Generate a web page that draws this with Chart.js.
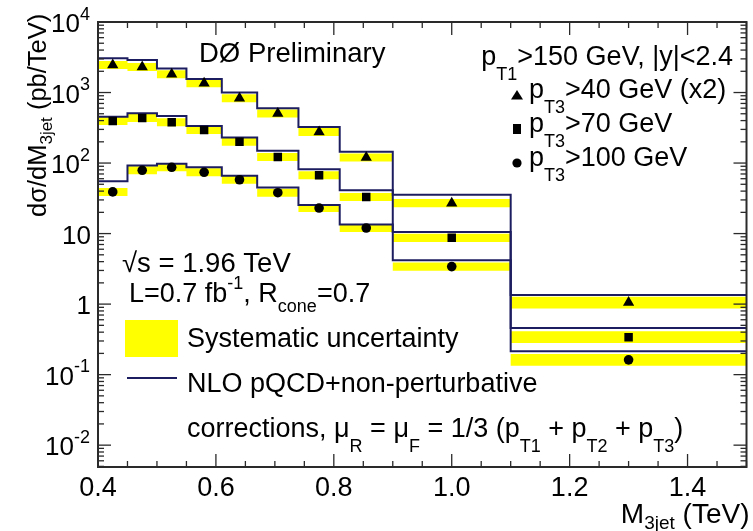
<!DOCTYPE html>
<html>
<head>
<meta charset="utf-8">
<title>D0 three-jet mass cross section</title>
<script src="https://cdn.jsdelivr.net/npm/chart.js@4.4.1/dist/chart.umd.min.js"></script>
<style>
  html, body { margin: 0; padding: 0; background: #ffffff; }
  #chart { display: block; }
</style>
</head>
<body>
<canvas id="chart" width="753" height="531"></canvas>
<script>
// bin edges and centres in M3jet (TeV)
const binEdges = [0.40, 0.45, 0.50, 0.55, 0.61, 0.67, 0.74, 0.81, 0.90, 1.10, 1.50];
const binCenters = [0.425, 0.475, 0.525, 0.58, 0.64, 0.705, 0.775, 0.855, 1.00, 1.30];

// measured cross sections (pb/TeV), pT3 > 40 GeV is scaled by 2
const dataPt40 = [2450, 2300, 1820, 1350, 830, 505, 275, 120, 27, 1.05];
const dataPt70 = [395, 435, 380, 295, 200, 122, 67, 33, 8.7, 0.34];
const dataPt100 = [39, 79, 87, 74, 58, 38, 23, 12, 3.4, 0.162];

// NLO pQCD + non-perturbative corrections
const nloPt40 = [3050, 2900, 2200, 1550, 1000, 600, 325, 145, 35.5, 1.35];
const nloPt70 = [455, 510, 465, 335, 230, 150, 82, 41, 10.5, 0.46];
const nloPt100 = [55, 92, 98, 87, 66, 45, 25.5, 13.5, 4.2, 0.215];

// relative systematic uncertainty per bin
const sysUnc = [0.14, 0.14, 0.14, 0.14, 0.14, 0.14, 0.14, 0.14, 0.145, 0.21];

// axis labels
const xTickValues = [0.4, 0.6, 0.8, 1.0, 1.2, 1.4];
const xTickLabels = ['0.4', '0.6', '0.8', '1.0', '1.2', '1.4'];
const yTickValues = [1e-2, 1e-1, 1, 10, 1e2, 1e3, 1e4];
const yTickBase = ['10', '10', '1', '10', '10', '10', '10'];
const yTickExp = ['-2', '-1', '', '', '2', '3', '4'];

const YELLOW = '#ffff00';
const NAVY = '#1c1c60';
const FONT = "'Liberation Sans', Arial, Helvetica, sans-serif";

// step line points: one point per bin edge, last one repeats the last value
// (with stepped 'before' each point's value runs to the next edge)
function stepPoints(values, factor) {
    return binEdges.map((e, i) => {
        const k = Math.min(i, values.length - 1);
        const f = factor ? factor(k) : 1;
        return { x: e, y: values[k] * f };
    });
}

function buildDatasets() {
    const series = [
        { data: dataPt40, nlo: nloPt40, style: 'triangle', radius: 6.5 },
        { data: dataPt70, nlo: nloPt70, style: 'rect', radius: 6 },
        { data: dataPt100, nlo: nloPt100, style: 'circle', radius: 4.8 }
    ];
    const sets = [];
    series.forEach(s => {
        // systematic band: upper edge, then lower edge filled to it
        sets.push({
            data: stepPoints(s.data, k => 1 + sysUnc[k]),
            stepped: 'before', borderWidth: 0, pointRadius: 0,
            fill: false, order: 3
        });
        sets.push({
            data: stepPoints(s.data, k => 1 / (1 + sysUnc[k])),
            stepped: 'before', borderWidth: 0, pointRadius: 0,
            fill: '-1', backgroundColor: YELLOW, order: 3
        });
        // theory histogram
        sets.push({
            data: stepPoints(s.nlo),
            stepped: 'before', borderColor: NAVY, borderWidth: 2,
            pointRadius: 0, fill: false, order: 2
        });
        // data markers
        sets.push({
            data: binCenters.map((c, i) => ({ x: c, y: s.data[i] })),
            showLine: false, pointStyle: s.style, pointRadius: s.radius,
            backgroundColor: '#000', borderColor: '#000', borderWidth: 0,
            order: 1
        });
    });
    return sets;
}

// text with sub/superscripts: parts = [text, kind]
function drawRich(ctx, parts, x, y, size, align) {
    const fontFor = k => (k === 'n' ? size : Math.round(size * 0.68)) + 'px ' + FONT;
    const shift = { n: 0, sub: 0.22, subr: 0.37, subp: 0.56, sup: -0.47 };
    const widths = parts.map(([t, k]) => { ctx.font = fontFor(k); return ctx.measureText(t).width; });
    const total = widths.reduce((a, b) => a + b, 0);
    let cx = align === 'right' ? x - total : align === 'center' ? x - total / 2 : x;
    ctx.textAlign = 'left';
    ctx.textBaseline = 'alphabetic';
    parts.forEach(([t, k], i) => {
        ctx.font = fontFor(k);
        ctx.fillText(t, cx, y + shift[k] * size);
        cx += widths[i];
    });
}

function seg(ctx, x1, y1, x2, y2) {
    ctx.beginPath();
    ctx.moveTo(x1, y1);
    ctx.lineTo(x2, y2);
    ctx.stroke();
}

function marker(ctx, style, x, y) {
    ctx.fillStyle = '#000';
    ctx.beginPath();
    if (style === 'triangle') {
        ctx.moveTo(x, y - 5); ctx.lineTo(x + 6, y + 4.5); ctx.lineTo(x - 6, y + 4.5); ctx.closePath();
    } else if (style === 'rect') {
        ctx.rect(x - 4, y - 5, 8, 10);
    } else {
        ctx.arc(x, y, 4.6, 0, Math.PI * 2);
    }
    ctx.fill();
}

const framePlugin = {
    id: 'rootFrame',
    afterDraw(chart) {
        const { ctx, chartArea: a, scales: { x, y } } = chart;
        ctx.save();
        ctx.strokeStyle = '#2a2a2a';
        ctx.fillStyle = '#000';

        // ticks, drawn inside the frame on all four sides
        ctx.lineWidth = 1.3;
        for (let k = 0; k <= 22; k++) {
            const px = x.getPixelForValue(0.4 + k * 0.05);
            const len = k % 4 === 0 ? 13 : 6;
            seg(ctx, px, a.bottom, px, a.bottom - len);
            seg(ctx, px, a.top, px, a.top + len);
        }
        for (let e = -3; e <= 4; e++) {
            for (let m = 1; m <= 9; m++) {
                const v = m * Math.pow(10, e);
                if (v < y.min || v > y.max * 1.0001) continue;
                const py = y.getPixelForValue(v);
                const len = m === 1 ? 13 : 6;
                seg(ctx, a.left, py, a.left + len, py);
                seg(ctx, a.right, py, a.right - len, py);
            }
        }
        ctx.lineWidth = 2;
        ctx.strokeRect(a.left, a.top, a.right - a.left, a.bottom - a.top);

        // tick labels
        xTickValues.forEach((v, i) => {
            drawRich(ctx, [[xTickLabels[i], 'n']], x.getPixelForValue(v), a.bottom + 29, 27, 'center');
        });
        yTickValues.forEach((v, i) => {
            const py = y.getPixelForValue(v) + 10;
            if (yTickExp[i]) {
                drawRich(ctx, [[yTickBase[i], 'n'], [yTickExp[i], 'sup']], a.left - 8, py, 26, 'right');
            } else {
                drawRich(ctx, [[yTickBase[i], 'n']], a.left - 7, py, 26, 'right');
            }
        });

        // axis titles
        drawRich(ctx, [['M', 'n'], ['3jet', 'sub'], [' (TeV)', 'n']], a.right + 3, 523, 28, 'right');
        ctx.save();
        ctx.translate(46, 217);
        ctx.rotate(-Math.PI / 2);
        drawRich(ctx, [['dσ/dM', 'n'], ['3jet', 'sub'], [' (pb/TeV)', 'n']], 0, 0, 25.5, 'left');
        ctx.restore();

        // annotations
        drawRich(ctx, [['DØ Preliminary', 'n']], 199, 62, 27.5, 'left');
        drawRich(ctx, [['p', 'n'], ['T1', 'subp'], ['>150 GeV, |y|<2.4', 'n']], 733, 65, 27, 'right');
        const rows = [
            { style: 'triangle', parts: [['p', 'n'], ['T3', 'subp'], ['>40 GeV (x2)', 'n']], base: 98 },
            { style: 'rect', parts: [['p', 'n'], ['T3', 'subp'], ['>70 GeV', 'n']], base: 132 },
            { style: 'circle', parts: [['p', 'n'], ['T3', 'subp'], ['>100 GeV', 'n']], base: 166 }
        ];
        rows.forEach(r => {
            marker(ctx, r.style, 517, r.base - 3);
            drawRich(ctx, r.parts, 529, r.base, 27, 'left');
        });

        drawRich(ctx, [['√s = 1.96 TeV', 'n']], 122, 272, 27.5, 'left');
        drawRich(ctx, [['L=0.7 fb', 'n'], ['-1', 'sup'], [', R', 'n'], ['cone', 'subr'], ['=0.7', 'n']], 129, 302, 27, 'left');

        ctx.fillStyle = YELLOW;
        ctx.fillRect(125, 320, 53, 37);
        ctx.fillStyle = '#000';
        drawRich(ctx, [['Systematic uncertainty', 'n']], 187, 347, 27, 'left');

        ctx.strokeStyle = NAVY;
        ctx.lineWidth = 2;
        seg(ctx, 127, 378, 177, 378);
        drawRich(ctx, [['NLO pQCD+non-perturbative', 'n']], 187, 392, 27, 'left');
        drawRich(ctx, [
            ['corrections, μ', 'n'], ['R', 'subp'], [' = μ', 'n'], ['F', 'subp'],
            [' = 1/3 (p', 'n'], ['T1', 'subp'], [' + p', 'n'], ['T2', 'subp'],
            [' + p', 'n'], ['T3', 'subp'], [')', 'n']
        ], 187, 437, 27, 'left');

        ctx.restore();
    }
};

new Chart(document.getElementById('chart'), {
    type: 'line',
    data: { datasets: buildDatasets() },
    options: {
        responsive: false,
        animation: false,
        layout: { padding: { left: 98, top: 22, right: 6, bottom: 64 } },
        scales: {
            x: { type: 'linear', min: 0.4, max: 1.5, display: false },
            y: { type: 'logarithmic', min: 0.0049, max: 10000, display: false }
        },
        plugins: {
            legend: { display: false },
            tooltip: { enabled: false }
        }
    },
    plugins: [framePlugin]
});
</script>
</body>
</html>
